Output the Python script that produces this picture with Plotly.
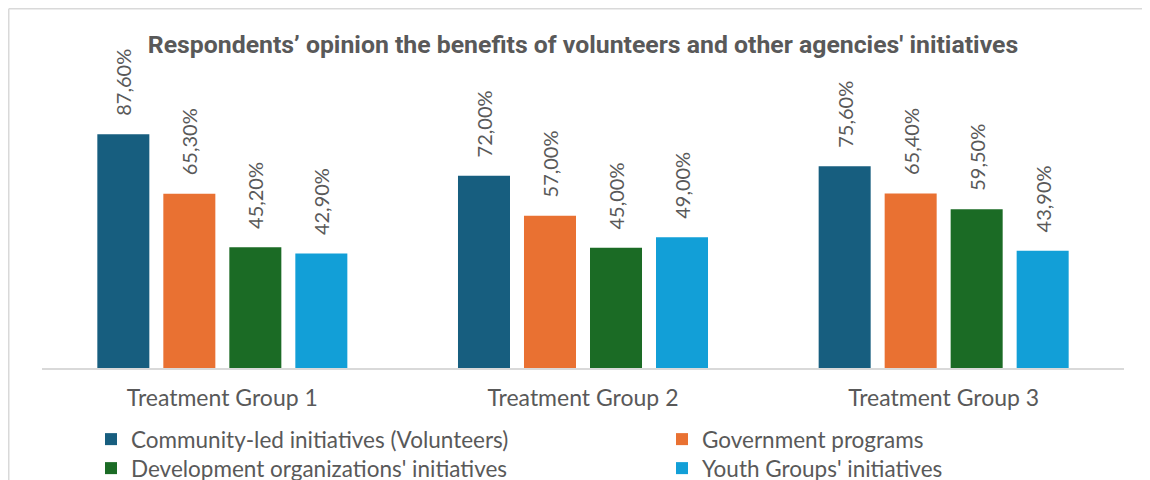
import plotly.graph_objects as go

categories = ["Treatment Group 1", "Treatment Group 2", "Treatment Group 3"]
series_names = [
    "Community-led initiatives (Volunteers)",
    "Government programs",
    "Development organizations' initiatives",
    "Youth Groups' initiatives",
]
community = [87.6, 72.0, 75.6]
government = [65.3, 57.0, 65.4]
development = [45.2, 45.0, 59.5]
youth = [42.9, 49.0, 43.9]
series_values = [community, government, development, youth]
colors = ["#175E7F", "#E97132", "#1B6B25", "#129FD7"]
legend_ids = ["legend", "legend2", "legend3", "legend4"]

TEXT = "#595959"
FONT = "Lato, 'Open Sans', sans-serif"

W, H = 1142, 472  # page body adds an 8px offset

def fmt(v):
    return "\u00a0\u00a0\u00a0" + f"{v:.2f}".replace(".", ",") + "%"

fig = go.Figure()
for name, vals, col, lg in zip(series_names, series_values, colors, legend_ids):
    fig.add_trace(go.Bar(
        x=categories, y=vals, name=name,
        marker=dict(color=col, line=dict(width=0)),
        text=[fmt(v) for v in vals],
        textposition="outside", textangle=-90,
        constraintext="none",
        textfont=dict(family=FONT, size=20, color=TEXT),
        cliponaxis=False,
        hoverinfo="skip",
        legend=lg,
    ))

legend_common = dict(
    orientation="v", xref="container", yref="container",
    xanchor="left", yanchor="top",
    font=dict(family=FONT, size=22.5, color=TEXT),
    traceorder="normal", bgcolor="rgba(0,0,0,0)",
)
col_x = [83 / W, 654 / W]
row_y = [1 - 410 / H, 1 - 439 / H]

L, R, T, B = 34, 26, 50, 111.5
pw, ph = W - L - R, H - T - B

border = dict(color="#D9D9D9", width=1.5)

fig.update_layout(
    width=W, height=H,
    margin=dict(l=L, r=R, t=T, b=B, autoexpand=False),
    paper_bgcolor="white", plot_bgcolor="white",
    barmode="group", bargap=0.268, bargroupgap=0.212,
    font=dict(family=FONT, color=TEXT),
    title=dict(
        text="<b>Respondents’ opinion the benefits of volunteers and other agencies' initiatives</b>",
        font=dict(family="Roboto, sans-serif", size=24.8, color=TEXT),
        x=0.5, xref="paper", xanchor="center",
        y=1 - 36 / H, yref="container", yanchor="middle",
    ),
    xaxis=dict(
        showline=True, linecolor="#D9D9D9", linewidth=2,
        ticks="", tickfont=dict(family=FONT, size=23, color=TEXT),
        ticklabelstandoff=8,
        showgrid=False, zeroline=False,
    ),
    yaxis=dict(visible=False, range=[0, ph / 2.674], showgrid=False, zeroline=False),
    legend=dict(legend_common, x=col_x[0], y=row_y[0]),
    legend2=dict(legend_common, x=col_x[1], y=row_y[0]),
    legend3=dict(legend_common, x=col_x[0], y=row_y[1]),
    legend4=dict(legend_common, x=col_x[1], y=row_y[1]),
    showlegend=True,
    shapes=[
        dict(type="line", xref="paper", yref="paper",
             x0=(0.75 - L) / pw, x1=1.2,
             y0=1 + (T - 0.75) / ph, y1=1 + (T - 0.75) / ph,
             line=border, layer="below"),
        dict(type="line", xref="paper", yref="paper",
             x0=(0.75 - L) / pw, x1=(0.75 - L) / pw,
             y0=-0.6, y1=1 + (T - 0.75) / ph,
             line=border, layer="below"),
    ],
)

fig.write_html("out.html")
